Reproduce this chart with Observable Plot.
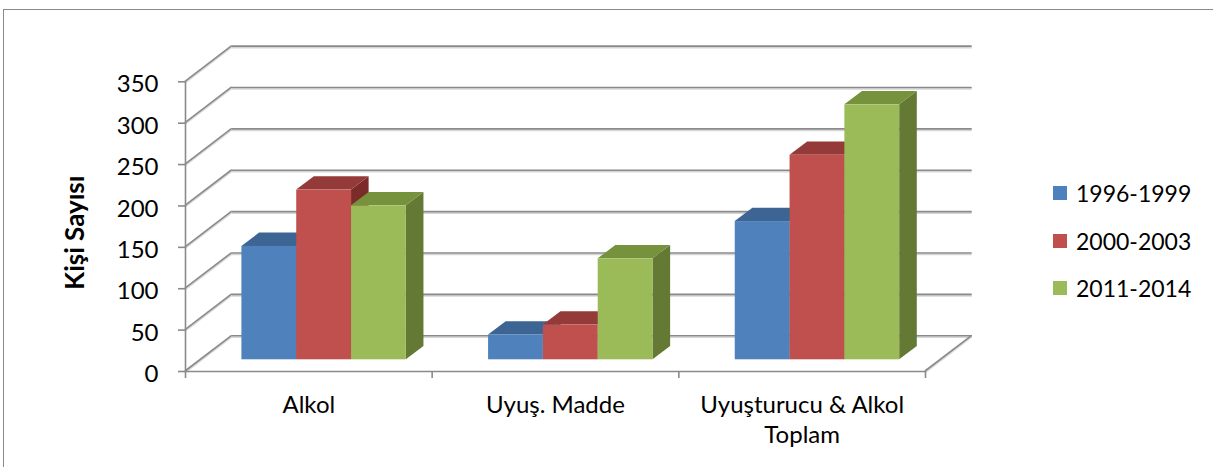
<!DOCTYPE html>
<html><head><meta charset="utf-8">
<script src="https://cdn.jsdelivr.net/npm/d3@7"></script>
<script src="https://cdn.jsdelivr.net/npm/@observablehq/plot@0.6"></script>
<style>
html,body{margin:0;padding:0;background:#fff;overflow:hidden;width:1213px;height:467px;}
#frame{position:absolute;left:3px;top:9px;width:1230px;height:480px;border:1px solid #898989;box-sizing:border-box;}
#chart{position:absolute;left:0;top:0;}
#legend{position:absolute;left:1053px;top:0;font-family:Lato,"Open Sans",sans-serif;font-size:23px;color:#000;}
.item{position:absolute;left:0;display:flex;align-items:center;white-space:nowrap;height:24px;}
.sw{width:14px;height:14px;margin-right:9px;flex:none;}
</style></head>
<body>
<div id="frame"></div>
<div id="chart"></div>
<div id="legend"></div>
<script>
// ---- data ----
const categories = ["Alkol", "Uyuş. Madde", "Uyuşturucu & Alkol\nToplam"];
const seriesNames = ["1996-1999", "2000-2003", "2011-2014"];
const s1996 = [137, 30, 167];
const s2000 = [205, 42, 247];
const s2011 = [186, 122, 308];
const yTicks = [0, 50, 100, 150, 200, 250, 300, 350];
const yTitle = "Kişi Sayısı";

// ---- styles ----
const colors = ["#4F81BD", "#C0504D", "#9BBB59"];
const topColors = ["#3D6593", "#943B39", "#76923C"];
const sideColors = ["#35557F", "#7B2C2A", "#637934"];
const gridColor = "#8a8a8a";
const gridShadow = "#d6d6d6";
const WALL_DX = 46.7, WALL_DY = 35.7;   // floor depth offsets
const BAR_DX = 15.3, BAR_DY = 11.7;     // bar front plane offset
const DEP_DX = 17.6, DEP_DY = 13.3;     // bar depth
const GAP = 1.5;                         // gap width 150%

const seriesValues = [s1996, s2000, s2011];
const barW = 1 / (seriesNames.length + GAP);
const rows = [];
categories.forEach((c, ci) => {
  seriesNames.forEach((s, si) => {
    const x1 = ci + (GAP / 2) * barW + si * barW;
    rows.push({ci, si, cat: c, series: s, value: seriesValues[si][ci], x1, x2: x1 + barW});
  });
});

function wallDiagonals(index, scales) {
  const {x, y} = scales;
  const g = d3.create("svg:g");
  const segs = yTicks.map(v => [x(0), y(v)]);
  segs.push([x(3), y(0)]);
  for (const [px, py] of segs) {
    g.append("line").attr("x1", px).attr("y1", py + 1.5).attr("x2", px + WALL_DX).attr("y2", py - WALL_DY + 1.5)
      .attr("stroke", gridShadow).attr("stroke-width", 1.6);
    g.append("line").attr("x1", px).attr("y1", py).attr("x2", px + WALL_DX).attr("y2", py - WALL_DY)
      .attr("stroke", gridColor).attr("stroke-width", 1.6);
  }
  return g.node();
}

function barFaces(kind) {
  return (index, scales) => {
    const {x, y} = scales;
    const g = d3.create("svg:g");
    for (const d of rows) {
      const X1 = x(d.x1) + BAR_DX, X2 = x(d.x2) + BAR_DX;
      const Y0 = y(0) - BAR_DY, YV = y(d.value) - BAR_DY;
      const pts = kind === "side"
        ? [[X2, Y0], [X2, YV], [X2 + DEP_DX, YV - DEP_DY], [X2 + DEP_DX, Y0 - DEP_DY]]
        : [[X1, YV], [X2, YV], [X2 + DEP_DX, YV - DEP_DY], [X1 + DEP_DX, YV - DEP_DY]];
      g.append("path").attr("d", "M" + pts.map(p => p.join(",")).join("L") + "Z")
        .attr("fill", kind === "side" ? sideColors[d.si] : topColors[d.si]);
    }
    return g.node();
  };
}

const chart = Plot.plot({
  width: 1213,
  height: 467,
  marginLeft: 185,
  marginRight: 288,
  marginTop: 81.3,
  marginBottom: 96,
  x: {domain: [0, 3], axis: null},
  y: {domain: [0, 350], axis: null, label: null},
  color: {domain: seriesNames, range: colors},
  style: {fontFamily: "Lato, 'Open Sans', sans-serif", fontSize: "24px", background: "transparent", color: "#000", overflow: "visible"},
  marks: [
    // back wall gridlines
    Plot.ruleY(yTicks, {x1: () => 0, x2: () => 3, dx: WALL_DX, dy: -WALL_DY + 1.5, stroke: gridShadow, strokeWidth: 1.6}),
    Plot.ruleY(yTicks, {x1: () => 0, x2: () => 3, dx: WALL_DX, dy: -WALL_DY, stroke: gridColor, strokeWidth: 1.6}),
    wallDiagonals,
    // front axis line & floor edge
    Plot.ruleX([0], {y1: () => 0, y2: () => 350, stroke: gridColor, strokeWidth: 1.6}),
    Plot.ruleY([0], {x1: () => 0, x2: () => 3, stroke: gridColor, strokeWidth: 1.6}),
    // bars (3D)
    barFaces("side"),
    barFaces("top"),
    Plot.rect(rows, {x1: "x1", x2: "x2", y1: () => 0, y2: "value", fill: "series", dx: BAR_DX, dy: -BAR_DY}),
    // y axis
    Plot.axisY({ticks: yTicks, tickSize: 7, tickFormat: () => "", stroke: gridColor, strokeWidth: 1.6, label: null}),
    Plot.axisY({ticks: yTicks, tickSize: 0, tickPadding: 0, dx: -27, dy: 3, fill: "#000", fontSize: 24, label: null}),
    // x axis
    Plot.axisX({ticks: [0, 1, 2, 3], tickSize: 7, tickFormat: () => "", stroke: gridColor, strokeWidth: 1.6, label: null}),
    Plot.axisX({ticks: [0.5, 1.5, 2.5], tickSize: 0, tickPadding: 21, tickFormat: v => categories[Math.floor(v)], fill: "#000", fontSize: 24, lineHeight: 1.22, label: null}),
    // y title
    Plot.text([yTitle], {frameAnchor: "left", textAnchor: "middle", rotate: -90, dx: -110, dy: 6, fontWeight: "bold", fontSize: 26, fill: "#000"})
  ]
});
document.getElementById("chart").appendChild(chart);

// legend
const legend = document.getElementById("legend");
const rowCenters = [193, 241, 288];
seriesNames.forEach((s, i) => {
  const it = document.createElement("div");
  it.className = "item";
  it.style.top = (rowCenters[i] - 12) + "px";
  it.innerHTML = `<span class="sw" style="background:${colors[i]}"></span><span>${s}</span>`;
  legend.appendChild(it);
});
</script>
</body></html>
